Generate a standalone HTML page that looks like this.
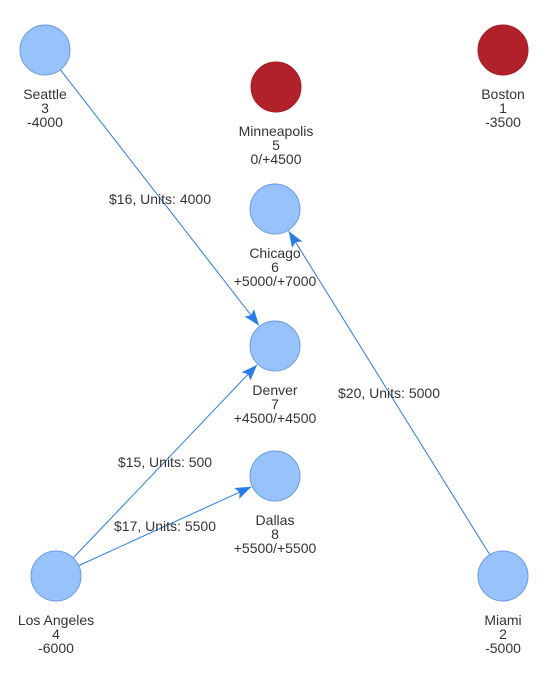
<!DOCTYPE html>
<html><head><meta charset="utf-8"><style>
html,body{margin:0;padding:0;background:#fff;}
svg{display:block;font-family:"Liberation Sans",Arial,sans-serif;}
</style></head><body>
<svg id="chart" width="544" height="691" viewBox="0 0 544 691" xmlns="http://www.w3.org/2000/svg">
<defs><marker id="arr" viewBox="0 0 10 10" refX="10" refY="5" markerWidth="10" markerHeight="10" markerUnits="userSpaceOnUse" orient="auto"><path d="M0,0 L10,5 L0,10 z" fill="#2b7ce9"/></marker>
<marker id="arrBig" viewBox="0 0 16 12" refX="16" refY="6" markerWidth="16" markerHeight="12" markerUnits="userSpaceOnUse" orient="auto"><path d="M0,0 L16,6 L0,12 L3,6 z" fill="#2b7ce9"/></marker></defs>
<g id="edges"></g><g id="nodes"></g>
</svg>
<script>
const nodeNames=["Seattle","Boston","Minneapolis","Chicago","Denver","Dallas","Los Angeles","Miami"];
const nodeIds=["3","1","5","6","7","8","4","2"];
const nodeValues=["-4000","-3500","0/+4500","+5000/+7000","+4500/+4500","+5500/+5500","-6000","-5000"];
const nodeX=[45,503,276,275,275,275,56,503];
const nodeY=[50,50,87,209,346,476,576,576];
const nodeSupply=[true,false,false,true,true,true,true,true];
const edgeFrom=[0,7,6,6];
const edgeTo=[4,3,4,5];
const edgeLabels=["$16, Units: 4000","$20, Units: 5000","$15, Units: 500","$17, Units: 5500"];
const edgeLabelX=[160,389,165,165];
const edgeLabelY=[199,393,462,526];
const NS="http://www.w3.org/2000/svg";
const R=25;
const eg=document.getElementById('edges'),ng=document.getElementById('nodes');
edgeFrom.forEach((f,i)=>{
  const t=edgeTo[i];
  const x1=nodeX[f],y1=nodeY[f],x2=nodeX[t],y2=nodeY[t];
  const dx=x2-x1,dy=y2-y1,d=Math.hypot(dx,dy);
  const l=document.createElementNS(NS,'line');
  
  
  l.setAttribute('x1',x1+dx/d*R);l.setAttribute('y1',y1+dy/d*R);
  l.setAttribute('x2',x2-dx/d*(R+1));l.setAttribute('y2',y2-dy/d*(R+1));
  l.setAttribute('stroke','#2b7ce9');l.setAttribute('stroke-width','1');
  l.setAttribute('marker-end','url(#arrBig)');
  eg.appendChild(l);
  const tx=document.createElementNS(NS,'text');
  
  
  tx.setAttribute('x',edgeLabelX[i]);tx.setAttribute('y',edgeLabelY[i]+5);
  tx.setAttribute('text-anchor','middle');tx.setAttribute('font-size','14');tx.setAttribute('fill','#343434');
  tx.textContent=edgeLabels[i];
  eg.appendChild(tx);
});
nodeNames.forEach((n,i)=>{
  const g=document.createElementNS(NS,'g');
  
  
  const c=document.createElementNS(NS,'circle');
  
  
  c.setAttribute('cx',nodeX[i]);c.setAttribute('cy',nodeY[i]);c.setAttribute('r',R);
  c.setAttribute('fill',nodeSupply[i]?'#97c2fc':'#b1212a');
  c.setAttribute('stroke',nodeSupply[i]?'#6b9be0':'#a31f27');c.setAttribute('stroke-width','1');
  g.appendChild(c);
  [n,nodeIds[i],nodeValues[i]].forEach((s,k)=>{
    const t=document.createElementNS(NS,'text');
    
    
    t.setAttribute('x',nodeX[i]);t.setAttribute('y',nodeY[i]+49+k*14);
    t.setAttribute('text-anchor','middle');t.setAttribute('font-size','14');t.setAttribute('fill','#343434');
    t.textContent=s;g.appendChild(t);
  });
  ng.appendChild(g);
});
</script>
</body></html>
